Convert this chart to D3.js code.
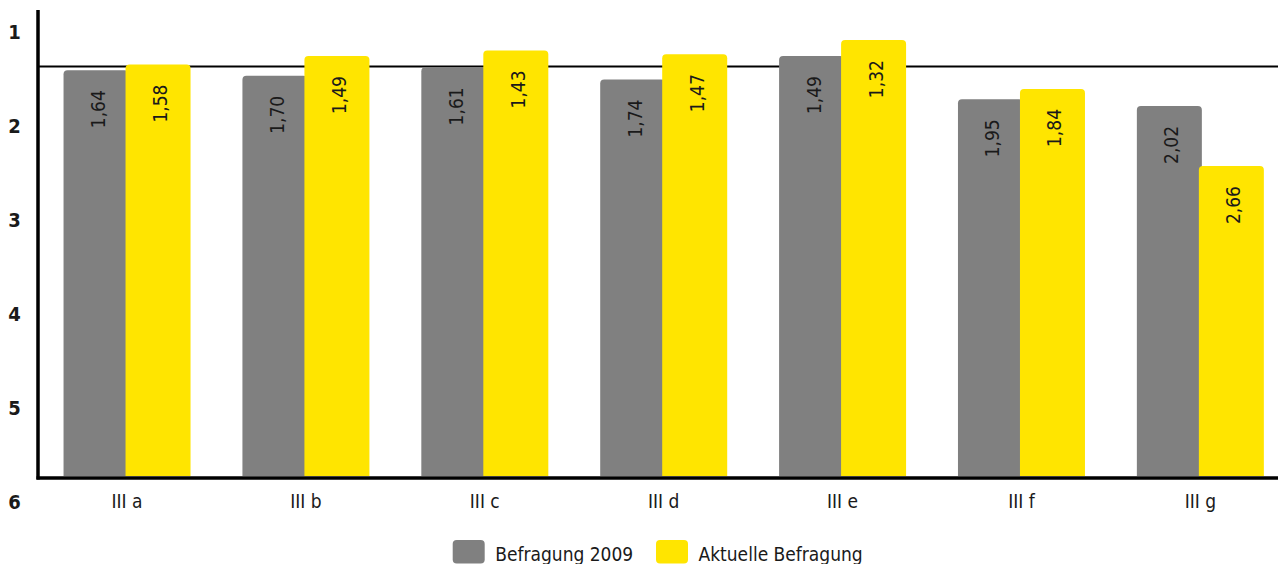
<!DOCTYPE html>
<html>
<head>
<meta charset="utf-8">
<script src="https://cdn.jsdelivr.net/npm/d3@7"></script>
<style>
  html, body { margin: 0; padding: 0; background: #ffffff; }
  svg { display: block; font-family: "DejaVu Sans Condensed", "DejaVu Sans", sans-serif; font-stretch: condensed; }
</style>
</head>
<body>
<svg id="chart" width="1278" height="564"></svg>
<script>
// Survey results per question group (grade scale 1 = best, 6 = worst)
const categories = ["III a", "III b", "III c", "III d", "III e", "III f", "III g"];
const series2009 = [1.64, 1.70, 1.61, 1.74, 1.49, 1.95, 2.02];
const seriesCurrent = [1.58, 1.49, 1.43, 1.47, 1.32, 1.84, 2.66];
const seriesNames = ["Befragung 2009", "Aktuelle Befragung"];
const seriesColors = ["#808080", "#FFE500"];
const yTicks = [1, 2, 3, 4, 5, 6];
const referenceValue = 1.60;

const svg = d3.select("#chart");
const W = 1278;
const textColor = "#1a1a1a";

// Grade scale: 1 at the top, 6 at the bottom
const y = d3.scaleLinear().domain([1, 6]).range([10, 480]);
const baseline = 476;

const x = d3.scaleBand().domain(categories).range([37.6, 1289.8]).padding(0);
const barW = 65;
const overlap = 3;

const fmt = v => d3.format(".2f")(v).replace(".", ",");

// Bar with rounded top corners only
function topRounded(x0, y0, w, yb, r) {
  return `M${x0},${yb}V${y0 + r}Q${x0},${y0} ${x0 + r},${y0}H${x0 + w - r}Q${x0 + w},${y0} ${x0 + w},${y0 + r}V${yb}Z`;
}

// Reference line behind the bars
svg.append("line")
  .attr("x1", 39).attr("x2", W)
  .attr("y1", y(referenceValue)).attr("y2", y(referenceValue))
  .attr("stroke", "#000").attr("stroke-width", 2);

const groups = categories.map((c, i) => ({ cat: c, vals: [series2009[i], seriesCurrent[i]] }));

const g = svg.selectAll("g.grp").data(groups).join("g").attr("class", "grp");

g.each(function(d) {
  const cx = x(d.cat) + x.bandwidth() / 2;
  const sel = d3.select(this);
  d.vals.forEach((v, k) => {
    const x0 = k === 0 ? cx - barW + overlap / 2 : cx - overlap / 2;
    sel.append("path")
      .attr("d", topRounded(x0, y(v), barW, baseline, 4))
      .attr("fill", seriesColors[k]);
    sel.append("text")
      .attr("transform", `translate(${x0 + barW / 2 + 2},${y(v) + 20}) rotate(-90)`)
      .attr("text-anchor", "end")
      .attr("dominant-baseline", "central")
      .attr("font-size", 19)
      .attr("fill", textColor)
      .text(fmt(v));
  });
  sel.append("text")
    .attr("x", cx).attr("y", 507.5)
    .attr("text-anchor", "middle")
    .attr("font-size", 19)
    .attr("fill", textColor)
    .text(d.cat);
});

// Axes
svg.append("line")
  .attr("x1", 38).attr("x2", 38)
  .attr("y1", y(1)).attr("y2", 479.5)
  .attr("stroke", "#000").attr("stroke-width", 3.5);
svg.append("line")
  .attr("x1", 36.5).attr("x2", W)
  .attr("y1", 478).attr("y2", 478)
  .attr("stroke", "#000").attr("stroke-width", 3.5);

svg.selectAll("text.ytick").data(yTicks).join("text")
  .attr("class", "ytick")
  .attr("x", 14.5).attr("y", d => y(d) + 22)
  .attr("text-anchor", "middle")
  .attr("dominant-baseline", "central")
  .attr("font-size", 20)
  .attr("font-weight", "bold")
  .attr("fill", textColor)
  .text(d => d);

// Legend
const legendItems = [
  { name: seriesNames[0], color: seriesColors[0], x: 452.7 },
  { name: seriesNames[1], color: seriesColors[1], x: 656 }
];
const lg = svg.selectAll("g.legend").data(legendItems).join("g").attr("class", "legend");
lg.append("rect")
  .attr("x", d => d.x).attr("y", 540)
  .attr("width", 32).attr("height", 23.5)
  .attr("rx", 4)
  .attr("fill", d => d.color);
lg.append("text")
  .attr("x", d => d.x + 42.5).attr("y", 561)
  .attr("font-size", 19)
  .attr("fill", textColor)
  .text(d => d.name);
</script>
</body>
</html>
